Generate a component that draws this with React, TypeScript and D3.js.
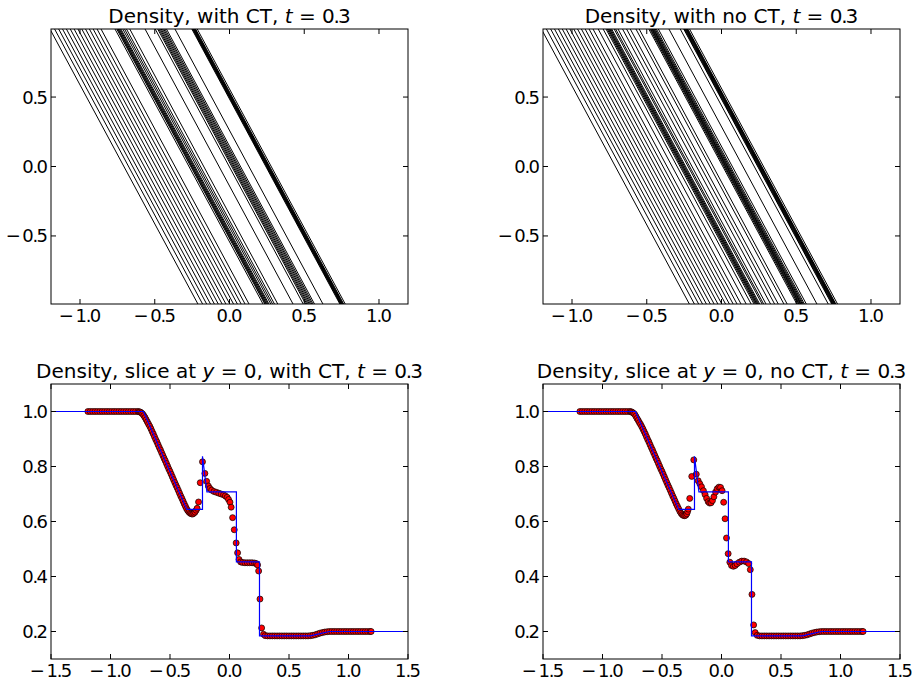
import React from 'react';
import * as d3 from 'd3';

// ---------- data ----------
// Density slice at y = 0, with CT: [x, rho]
const sliceCT: [number, number][] = [
  [-1.19, 1.0], [-1.17, 1.0], [-1.15, 1.0], [-1.13, 1.0], [-1.11, 1.0], [-1.09, 1.0], [-1.07, 1.0], [-1.05, 1.0],
  [-1.03, 1.0], [-1.01, 1.0], [-0.99, 1.0], [-0.97, 1.0], [-0.95, 1.0], [-0.93, 1.0], [-0.91, 1.0], [-0.89, 1.0],
  [-0.87, 1.0], [-0.85, 1.0], [-0.83, 1.0], [-0.81, 1.0], [-0.79, 1.0], [-0.77, 1.0], [-0.76, 0.999],
  [-0.75, 0.998], [-0.74, 0.995], [-0.73, 0.991], [-0.72, 0.985], [-0.71, 0.978], [-0.7, 0.97], [-0.69, 0.962],
  [-0.68, 0.954], [-0.67, 0.946], [-0.66, 0.937], [-0.65, 0.927], [-0.64, 0.918], [-0.63, 0.908], [-0.62, 0.898],
  [-0.61, 0.889], [-0.6, 0.879], [-0.59, 0.869], [-0.58, 0.86], [-0.57, 0.85], [-0.56, 0.84], [-0.55, 0.83],
  [-0.54, 0.821], [-0.53, 0.811], [-0.52, 0.801], [-0.51, 0.791], [-0.5, 0.782], [-0.49, 0.772], [-0.48, 0.762],
  [-0.47, 0.752], [-0.46, 0.742], [-0.45, 0.732], [-0.44, 0.723], [-0.43, 0.713], [-0.42, 0.703], [-0.41, 0.693],
  [-0.4, 0.684], [-0.39, 0.674], [-0.38, 0.664], [-0.37, 0.655], [-0.36, 0.646], [-0.35, 0.639], [-0.34, 0.634],
  [-0.33, 0.63], [-0.32, 0.628], [-0.31, 0.627], [-0.3, 0.63], [-0.29, 0.634], [-0.28, 0.641], [-0.272, 0.648],
  [-0.26, 0.671], [-0.246, 0.741], [-0.227, 0.817], [-0.207, 0.775],
  [-0.192, 0.746], [-0.178, 0.729], [-0.165, 0.72], [-0.15, 0.714], [-0.13, 0.709], [-0.11, 0.706], [-0.09, 0.703],
  [-0.07, 0.7], [-0.05, 0.697], [-0.035, 0.693], [-0.02, 0.688], [-0.008, 0.68], [0.004, 0.67], [0.014, 0.652],
  [0.026, 0.614], [0.04, 0.57], [0.056, 0.522], [0.068, 0.486], [0.08, 0.462], [0.094, 0.453], [0.11, 0.451],
  [0.13, 0.45], [0.15, 0.45], [0.17, 0.45], [0.19, 0.45], [0.21, 0.449], [0.225, 0.447], [0.236, 0.442],
  [0.245, 0.42], [0.256, 0.318], [0.27, 0.213], [0.286, 0.19], [0.3, 0.185], [0.32, 0.184], [0.34, 0.184],
  [0.36, 0.184], [0.38, 0.184], [0.4, 0.184], [0.42, 0.184], [0.44, 0.184], [0.46, 0.184], [0.48, 0.184],
  [0.5, 0.184], [0.52, 0.184], [0.54, 0.184], [0.56, 0.184], [0.58, 0.184], [0.6, 0.184], [0.62, 0.184],
  [0.64, 0.184], [0.66, 0.184], [0.68, 0.185], [0.7, 0.186], [0.72, 0.188], [0.74, 0.191], [0.76, 0.194],
  [0.78, 0.196], [0.8, 0.198], [0.82, 0.199], [0.84, 0.2], [0.86, 0.2], [0.88, 0.2], [0.9, 0.2], [0.92, 0.2],
  [0.94, 0.2], [0.96, 0.2], [0.98, 0.2], [1.0, 0.2], [1.02, 0.2], [1.04, 0.2], [1.06, 0.2], [1.08, 0.2],
  [1.1, 0.2], [1.12, 0.2], [1.14, 0.2], [1.16, 0.2], [1.18, 0.2], [1.19, 0.2],
];

// Density slice at y = 0, no CT: [x, rho]
const sliceNoCT: [number, number][] = [
  [-1.19, 1.0], [-1.17, 1.0], [-1.15, 1.0], [-1.13, 1.0], [-1.11, 1.0], [-1.09, 1.0], [-1.07, 1.0], [-1.05, 1.0],
  [-1.03, 1.0], [-1.01, 1.0], [-0.99, 1.0], [-0.97, 1.0], [-0.95, 1.0], [-0.93, 1.0], [-0.91, 1.0], [-0.89, 1.0],
  [-0.87, 1.0], [-0.85, 1.0], [-0.83, 1.0], [-0.81, 1.0], [-0.79, 1.0], [-0.77, 1.0], [-0.76, 0.999],
  [-0.75, 0.997], [-0.74, 0.994], [-0.73, 0.99], [-0.72, 0.983], [-0.71, 0.975], [-0.7, 0.968], [-0.69, 0.96],
  [-0.68, 0.953], [-0.67, 0.945], [-0.66, 0.936], [-0.65, 0.927], [-0.64, 0.918], [-0.63, 0.908], [-0.62, 0.898],
  [-0.61, 0.889], [-0.6, 0.879], [-0.59, 0.869], [-0.58, 0.86], [-0.57, 0.85], [-0.56, 0.84], [-0.55, 0.83],
  [-0.54, 0.821], [-0.53, 0.811], [-0.52, 0.801], [-0.51, 0.791], [-0.5, 0.782], [-0.49, 0.772], [-0.48, 0.762],
  [-0.47, 0.752], [-0.46, 0.742], [-0.45, 0.732], [-0.44, 0.723], [-0.43, 0.713], [-0.42, 0.703], [-0.41, 0.693],
  [-0.4, 0.684], [-0.39, 0.674], [-0.38, 0.664], [-0.37, 0.655], [-0.36, 0.646], [-0.35, 0.637], [-0.34, 0.63],
  [-0.33, 0.625], [-0.32, 0.622], [-0.31, 0.621], [-0.3, 0.623], [-0.292, 0.628], [-0.285, 0.636],
  [-0.279, 0.645], [-0.267, 0.684], [-0.25, 0.764], [-0.233, 0.824],
  [-0.212, 0.772], [-0.196, 0.748], [-0.182, 0.737], [-0.168, 0.726], [-0.152, 0.712], [-0.138, 0.698],
  [-0.125, 0.684], [-0.112, 0.672], [-0.1, 0.667], [-0.088, 0.668], [-0.076, 0.676], [-0.064, 0.69],
  [-0.05, 0.707], [-0.036, 0.719], [-0.022, 0.725], [-0.008, 0.724], [0.005, 0.712], [0.018, 0.67], [0.03, 0.61],
  [0.042, 0.54], [0.056, 0.483], [0.07, 0.452], [0.084, 0.44], [0.1, 0.437], [0.115, 0.44], [0.13, 0.446],
  [0.15, 0.452], [0.17, 0.456], [0.19, 0.456], [0.21, 0.453], [0.228, 0.447], [0.242, 0.425], [0.256, 0.335],
  [0.27, 0.224], [0.283, 0.196], [0.3, 0.186], [0.32, 0.184], [0.34, 0.184], [0.36, 0.184], [0.38, 0.184],
  [0.4, 0.184], [0.42, 0.184], [0.44, 0.184], [0.46, 0.184], [0.48, 0.184], [0.5, 0.184], [0.52, 0.184],
  [0.54, 0.184], [0.56, 0.184], [0.58, 0.184], [0.6, 0.184], [0.62, 0.184], [0.64, 0.184], [0.66, 0.184],
  [0.68, 0.185], [0.7, 0.186], [0.72, 0.188], [0.74, 0.191], [0.76, 0.194], [0.78, 0.196], [0.8, 0.198],
  [0.82, 0.199], [0.84, 0.2], [0.86, 0.2], [0.88, 0.2], [0.9, 0.2], [0.92, 0.2], [0.94, 0.2], [0.96, 0.2],
  [0.98, 0.2], [1.0, 0.2], [1.02, 0.2], [1.04, 0.2], [1.06, 0.2], [1.08, 0.2], [1.1, 0.2], [1.12, 0.2],
  [1.14, 0.2], [1.16, 0.2], [1.18, 0.2], [1.19, 0.2],
];

// Exact solution (blue line): [x, rho]
const exactSolution: [number, number][] = [
  [-1.5, 1.0], [-0.723, 1.0], [-0.6, 0.879], [-0.48, 0.762], [-0.358, 0.644], [-0.227, 0.644],
  [-0.227, 0.837], [-0.19, 0.708], [0.058, 0.708], [0.058, 0.453], [0.252, 0.453], [0.252, 0.184],
  [0.68, 0.184], [0.76, 0.192], [0.84, 0.2], [1.5, 0.2],
];

// Contour levels of the density maps
const contourLevels = [
  0.2, 0.225, 0.25, 0.275, 0.3, 0.325, 0.35, 0.375, 0.4, 0.425, 0.45, 0.475, 0.5, 0.525, 0.55, 0.575, 0.6,
  0.625, 0.65, 0.675, 0.7, 0.725, 0.75, 0.775, 0.8, 0.825, 0.85, 0.875, 0.9, 0.925, 0.95, 0.975,
];
// Direction of the rotated problem: contours are x + slope*y = const
const contourSlope = [0.5];

const topXTicks = [-1.0, -0.5, 0.0, 0.5, 1.0];
const topYTicks = [-0.5, 0.0, 0.5];
const botXTicks = [-1.5, -1.0, -0.5, 0.0, 0.5, 1.0, 1.5];
const botYTicks = [0.2, 0.4, 0.6, 0.8, 1.0];

const FONT = "'DejaVu Sans', 'Bitstream Vera Sans', sans-serif";
const TICK_FS = 18;
const TITLE_FS = 20;

// ---------- helpers ----------
function NumText(props: { x: number; y: number; v: number; anchor: string; dy?: number }) {
  const { x, y, v, anchor, dy } = props;
  const s = v.toFixed(1);
  const neg = s.startsWith('-');
  const body = neg ? s.slice(1) : s;
  const [a, b] = body.split('.');
  const fs = TICK_FS;
  return (
    <text x={x} y={y} dy={dy ?? 0} fontSize={fs} textAnchor={anchor} fontFamily={FONT} fill="#000">
      {neg ? <tspan>{'\u2212'}</tspan> : null}
      <tspan dx={neg ? fs * 0.08 : 0}>{a}</tspan>
      <tspan dx={-fs * 0.06}>.</tspan>
      <tspan dx={-fs * 0.1}>{b}</tspan>
    </text>
  );
}

function MathNum({ a, b }: { a: string; b: string }) {
  return (
    <>
      <tspan>{a}</tspan>
      <tspan dx={-TITLE_FS * 0.06}>.</tspan>
      <tspan dx={-TITLE_FS * 0.1}>{b}</tspan>
    </>
  );
}

type Frame = { left: number; top: number; w: number; h: number };

function AxesFrame({ f, xs, ys, xTicks, yTicks }: any) {
  const { left, top, w, h } = f;
  const bottom = top + h;
  const right = left + w;
  const TL = 5;
  return (
    <g>
      <rect x={left} y={top} width={w} height={h} fill="none" stroke="#000" strokeWidth={1} />
      {xTicks.map((t: number) => (
        <g key={'xt' + t}>
          <line x1={xs(t)} x2={xs(t)} y1={bottom} y2={bottom - TL} stroke="#000" />
          <line x1={xs(t)} x2={xs(t)} y1={top} y2={top + TL} stroke="#000" />
          <NumText x={xs(t)} y={bottom + 18} v={t} anchor="middle" />
        </g>
      ))}
      {yTicks.map((t: number) => (
        <g key={'yt' + t}>
          <line x1={left} x2={left + TL} y1={ys(t)} y2={ys(t)} stroke="#000" />
          <line x1={right} x2={right - TL} y1={ys(t)} y2={ys(t)} stroke="#000" />
          <NumText x={left - 3} y={ys(t)} dy={TICK_FS * 0.36} v={t} anchor="end" />
        </g>
      ))}
    </g>
  );
}

function crossings(slice: [number, number][], L: number): number[] {
  const out: number[] = [];
  for (let i = 0; i < slice.length - 1; i++) {
    const [s0, r0] = slice[i];
    const [s1, r1] = slice[i + 1];
    if ((r0 > L) !== (r1 > L)) {
      out.push(s0 + ((L - r0) / (r1 - r0)) * (s1 - s0));
    }
  }
  return out;
}

function ContourPanel({ f, slice, title, id }: { f: Frame; slice: [number, number][]; title: React.ReactNode; id: string }) {
  const xs = d3.scaleLinear().domain([-1.194, 1.194]).range([f.left, f.left + f.w]);
  const ys = d3.scaleLinear().domain([-0.99, 0.99]).range([f.top + f.h, f.top]);
  const k = contourSlope[0];
  const line = d3
    .line<[number, number]>()
    .x((d) => xs(d[0]))
    .y((d) => ys(d[1]));
  const segs: [number, number][][] = [];
  contourLevels.forEach((L) => {
    crossings(slice, L).forEach((s) => {
      segs.push([
        [s - k * 1.05, 1.05],
        [s + k * 1.05, -1.05],
      ]);
    });
  });
  return (
    <g>
      <defs>
        <clipPath id={id}>
          <rect x={f.left} y={f.top} width={f.w} height={f.h} />
        </clipPath>
      </defs>
      <g clipPath={`url(#${id})`}>
        {segs.map((sg, i) => (
          <path key={i} d={line(sg) || ''} fill="none" stroke="#000" strokeWidth={1} />
        ))}
      </g>
      <AxesFrame f={f} xs={xs} ys={ys} xTicks={topXTicks} yTicks={topYTicks} />
      <text x={f.left + f.w / 2} y={f.top - 6} fontSize={TITLE_FS} textAnchor="middle" fontFamily={FONT}>
        {title}
      </text>
    </g>
  );
}

function SlicePanel({ f, slice, title, id }: { f: Frame; slice: [number, number][]; title: React.ReactNode; id: string }) {
  const xs = d3.scaleLinear().domain([-1.5, 1.5]).range([f.left, f.left + f.w]);
  const ys = d3.scaleLinear().domain([0.1, 1.1]).range([f.top + f.h, f.top]);
  const line = d3
    .line<[number, number]>()
    .x((d) => xs(d[0]))
    .y((d) => ys(d[1]));
  return (
    <g>
      <defs>
        <clipPath id={id}>
          <rect x={f.left} y={f.top} width={f.w} height={f.h} />
        </clipPath>
      </defs>
      <g clipPath={`url(#${id})`}>
        {slice.map((d, i) => (
          <circle key={i} cx={xs(d[0])} cy={ys(d[1])} r={3} fill="#ff0000" stroke="#000" strokeWidth={0.7} />
        ))}
        <path d={line(exactSolution) || ''} fill="none" stroke="#0000ff" strokeWidth={1.2} />
      </g>
      <AxesFrame f={f} xs={xs} ys={ys} xTicks={botXTicks} yTicks={botYTicks} />
      <text x={f.left + f.w / 2} y={f.top - 6} fontSize={TITLE_FS} textAnchor="middle" fontFamily={FONT}>
        {title}
      </text>
    </g>
  );
}

export default function App() {
  const W = 917;
  const H = 685;
  const fTL: Frame = { left: 51, top: 29, w: 357, h: 275 };
  const fTR: Frame = { left: 543, top: 29, w: 357, h: 275 };
  const fBL: Frame = { left: 51, top: 384, w: 357, h: 275 };
  const fBR: Frame = { left: 543, top: 384, w: 357, h: 275 };
  const it = (s: string) => <tspan fontStyle="italic">{s}</tspan>;
  return (
    <svg width={W} height={H} style={{ position: 'absolute', left: 0, top: 0, background: '#fff' }}>
      <rect x={0} y={0} width={W} height={H} fill="#fff" />
      <ContourPanel
        f={fTL}
        slice={sliceCT}
        id="clipTL"
        title={
          <>
            <tspan>Density, with CT, </tspan>
            {it('t')}
            <tspan> = </tspan>
            <MathNum a="0" b="3" />
          </>
        }
      />
      <ContourPanel
        f={fTR}
        slice={sliceNoCT}
        id="clipTR"
        title={
          <>
            <tspan>Density, with no CT, </tspan>
            {it('t')}
            <tspan> = </tspan>
            <MathNum a="0" b="3" />
          </>
        }
      />
      <SlicePanel
        f={fBL}
        slice={sliceCT}
        id="clipBL"
        title={
          <>
            <tspan>Density, slice at </tspan>
            {it('y')}
            <tspan> = 0, with CT, </tspan>
            {it('t')}
            <tspan> = </tspan>
            <MathNum a="0" b="3" />
          </>
        }
      />
      <SlicePanel
        f={fBR}
        slice={sliceNoCT}
        id="clipBR"
        title={
          <>
            <tspan>Density, slice at </tspan>
            {it('y')}
            <tspan> = 0, no CT, </tspan>
            {it('t')}
            <tspan> = </tspan>
            <MathNum a="0" b="3" />
          </>
        }
      />
    </svg>
  );
}
